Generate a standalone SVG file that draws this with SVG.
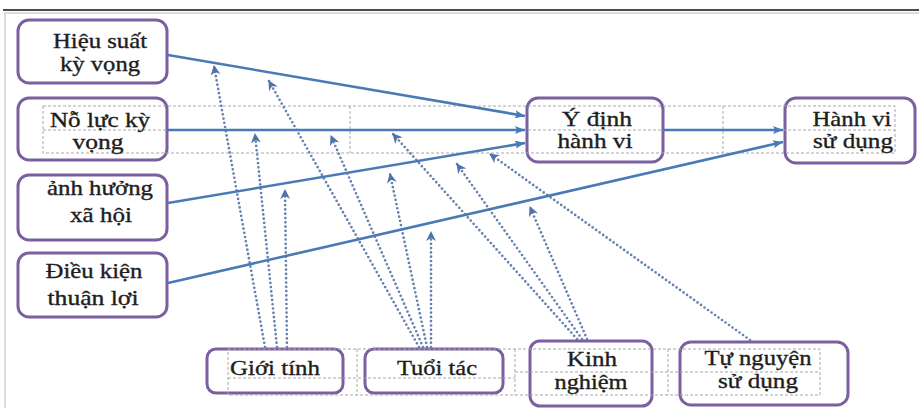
<svg xmlns="http://www.w3.org/2000/svg" width="919" height="408" viewBox="0 0 919 408">
<style>
.box{fill:#fff;stroke:#7b5f9f;stroke-width:3}
.grid{fill:none;stroke:#a8a8a8;stroke-width:1;stroke-dasharray:3 2}
.t{font-family:"Liberation Serif","Times New Roman",serif;font-size:21px;fill:#1e1e1e;stroke:#1e1e1e;stroke-width:0.35;text-anchor:middle}
.s{font-size:20px}
.solid{fill:none;stroke:#4a7ab6;stroke-width:2.6;marker-end:url(#ah)}
.dot{fill:none;stroke:#6680b0;stroke-width:2.7;stroke-dasharray:0 4.3;stroke-linecap:round;marker-end:url(#dh)}
</style>
<defs>
<marker id="ah" viewBox="0 0 10 8" refX="10" refY="4" markerWidth="10" markerHeight="8" markerUnits="userSpaceOnUse" orient="auto">
<path d="M0,0 L10,4 L0,8 L2,4 z" style="fill:#4a7ab6;stroke:none"/>
</marker>
<marker id="dh" viewBox="0 0 10 10" refX="9" refY="5" markerWidth="10" markerHeight="10" markerUnits="userSpaceOnUse" orient="auto">
<path d="M0,0 L10,5 L0,10 L3,5 z" style="fill:#4e73ac;stroke:none"/>
</marker>
</defs>
<rect width="919" height="408" fill="#fff"/>
<line x1="3" y1="10" x2="919" y2="10" stroke="#111" stroke-width="1.5"/>
<rect x="5" y="13" width="930" height="410" fill="none" stroke="#c8d5de" stroke-width="1.5"/>

<g id="n-hieusuat"><rect class="box" x="18" y="20" width="149" height="63" rx="11"/>
<text class="t" x="100" y="48" textLength="94" lengthAdjust="spacingAndGlyphs">Hiệu suất</text>
<text class="t" x="100" y="71" textLength="80" lengthAdjust="spacingAndGlyphs">kỳ vọng</text></g>
<g id="n-noluc"><rect class="box" x="18" y="98" width="149" height="62" rx="11"/></g>
<g id="n-anhhuong"><rect class="box" x="18" y="175" width="149" height="65" rx="11"/>
<text class="t" x="100" y="195" textLength="106" lengthAdjust="spacingAndGlyphs">ảnh hưởng</text>
<text class="t" x="101" y="222" textLength="62" lengthAdjust="spacingAndGlyphs">xã hội</text></g>
<g id="n-dieukien"><rect class="box" x="18" y="253" width="149" height="64" rx="11"/>
<text class="t" x="94" y="278" textLength="97" lengthAdjust="spacingAndGlyphs">Điều kiện</text>
<text class="t" x="93" y="305" textLength="91" lengthAdjust="spacingAndGlyphs">thuận lợi</text></g>
<g id="n-ydinh"><rect class="box" x="527" y="98" width="136" height="64" rx="11"/></g>
<g id="n-hanhvi"><rect class="box" x="785" y="98" width="130" height="65" rx="11"/></g>
<g id="n-gioitinh"><rect class="box" x="207" y="349" width="136" height="44" rx="9"/></g>
<g id="n-tuoitac"><rect class="box" x="365" y="349" width="138" height="44" rx="9"/></g>
<g id="n-kinhnghiem"><rect class="box" x="530" y="341" width="122" height="65" rx="10"/></g>
<g id="n-tunguyen"><rect class="box" x="680" y="342" width="168" height="63" rx="11"/></g>

<g id="grid">
<rect class="grid" x="43" y="106" width="852" height="47"/>
<line class="grid" x1="43" y1="130" x2="895" y2="130"/>
<line class="grid" x1="350" y1="106" x2="350" y2="153"/>
<line class="grid" x1="723" y1="106" x2="723" y2="153"/>
<rect class="grid" x="228" y="349" width="592" height="46"/>
<line class="grid" x1="228" y1="378" x2="515" y2="378"/>
<line class="grid" x1="515" y1="372" x2="820" y2="372"/>
<line class="grid" x1="357" y1="349" x2="357" y2="395"/>
<line class="grid" x1="515" y1="349" x2="515" y2="395"/>
<line class="grid" x1="668" y1="349" x2="668" y2="395"/>
</g>

<g id="labels">
<text class="t s" x="100" y="127" textLength="100" lengthAdjust="spacingAndGlyphs">Nỗ lực kỳ</text>
<text class="t s" x="98" y="149" textLength="51" lengthAdjust="spacingAndGlyphs">vọng</text>
<text class="t" x="597" y="126" textLength="70" lengthAdjust="spacingAndGlyphs">Ý định</text>
<text class="t" x="595" y="148" textLength="75" lengthAdjust="spacingAndGlyphs">hành vi</text>
<text class="t" x="852" y="126" textLength="79" lengthAdjust="spacingAndGlyphs">Hành vi</text>
<text class="t" x="853" y="148" textLength="80" lengthAdjust="spacingAndGlyphs">sử dụng</text>
<text class="t" x="275" y="375" textLength="90" lengthAdjust="spacingAndGlyphs">Giới tính</text>
<text class="t" x="437" y="375" textLength="80" lengthAdjust="spacingAndGlyphs">Tuổi tác</text>
<text class="t s" x="592" y="366" textLength="50" lengthAdjust="spacingAndGlyphs">Kinh</text>
<text class="t s" x="591" y="389" textLength="73" lengthAdjust="spacingAndGlyphs">nghiệm</text>
<text class="t" x="758" y="365" textLength="107" lengthAdjust="spacingAndGlyphs">Tự nguyện</text>
<text class="t" x="758" y="388" textLength="80" lengthAdjust="spacingAndGlyphs">sử dụng</text>
</g>

<g id="connectors">
<line class="dot" x1="265" y1="347" x2="214" y2="66"/>
<line class="dot" x1="277" y1="347" x2="255" y2="134"/>
<line class="dot" x1="287" y1="347" x2="285" y2="190"/>
<line class="dot" x1="419" y1="347" x2="269" y2="81"/>
<line class="dot" x1="423" y1="347" x2="331" y2="136"/>
<line class="dot" x1="427" y1="347" x2="390" y2="174"/>
<line class="dot" x1="431" y1="347" x2="431" y2="232"/>
<line class="dot" x1="577" y1="339" x2="393" y2="134"/>
<line class="dot" x1="582" y1="339" x2="457" y2="164"/>
<line class="dot" x1="587" y1="339" x2="530" y2="207"/>
<line class="dot" x1="750" y1="340" x2="490" y2="154"/>
<line class="solid" x1="168" y1="55" x2="525" y2="116"/>
<line class="solid" x1="168" y1="130" x2="525" y2="130"/>
<line class="solid" x1="168" y1="203" x2="525" y2="143"/>
<line class="solid" x1="168" y1="283" x2="783" y2="142"/>
<line class="solid" x1="663" y1="130" x2="783" y2="130"/>
</g>
</svg>
